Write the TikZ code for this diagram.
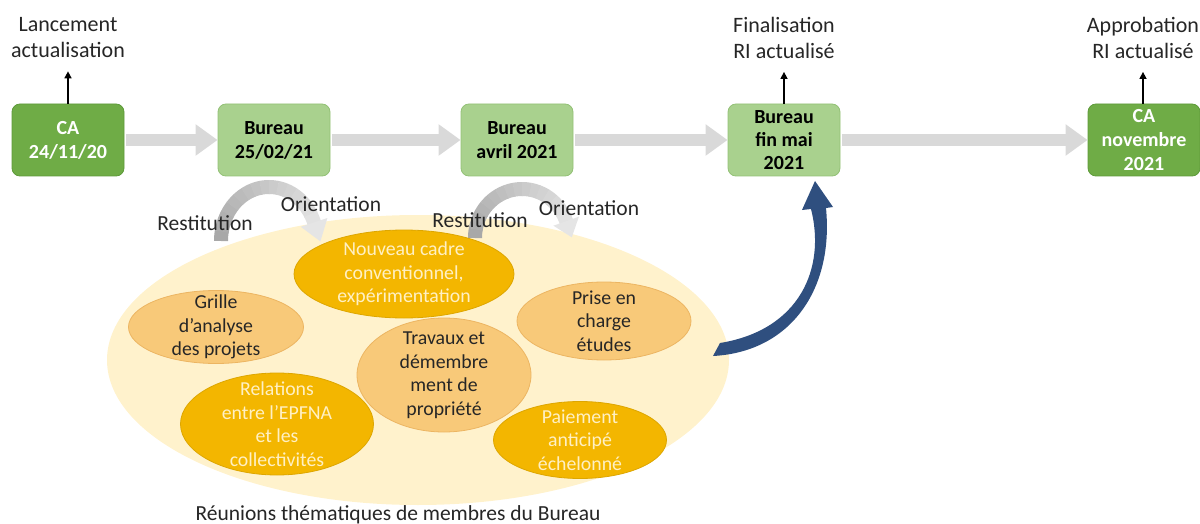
\documentclass[tikz,border=0pt]{standalone}
\usepackage{fontspec}
\setmainfont{Carlito}
\usetikzlibrary{arrows.meta,shapes.geometric}

\definecolor{cagreen}{HTML}{6FAC46}
\definecolor{cagreenline}{HTML}{5E9A3A}
\definecolor{bugreen}{HTML}{A9D18E}
\definecolor{bugreenline}{HTML}{93C176}
\definecolor{flowgray}{HTML}{D9D9D9}
\definecolor{paleyellow}{HTML}{FFF2CC}
\definecolor{gold}{HTML}{F3B600}
\definecolor{goldline}{HTML}{DDA600}
\definecolor{peach}{HTML}{F8C979}
\definecolor{peachline}{HTML}{ECB562}
\definecolor{creamtext}{HTML}{FFF0C4}
\definecolor{navyarrow}{HTML}{2F4F7F}
\definecolor{inktext}{HTML}{262626}

\tikzset{
  boxbase/.style={rounded corners=8pt, minimum width=112pt, minimum height=72pt,
    align=center, inner sep=0pt, line width=0.8pt,
    font=\fontsize{20}{24}\selectfont\bfseries},
  cabox/.style={boxbase, fill=cagreen, draw=cagreenline, text=white},
  bubox/.style={boxbase, fill=bugreen, draw=bugreenline, text=black},
  milestone/.style={align=center, inner sep=0pt, text=inktext,
    font=\fontsize{22}{26}\selectfont},
  steplabel/.style={inner sep=0pt, text=inktext, font=\fontsize{21.5}{26}\selectfont},
  flow/.style={draw=flowgray, line width=12pt, shorten <=2pt,
    -{Triangle[length=22pt,width=30pt]}},
  upline/.style={draw=black, line width=1.5pt, -{Triangle[length=7pt,width=7pt]}},
  goldell/.style={ellipse, fill=gold, draw=goldline, line width=0.8pt, inner sep=0pt},
  peachell/.style={ellipse, fill=peach, draw=peachline, line width=0.8pt, inner sep=0pt},
  goldtxt/.style={align=center, inner sep=0pt, text=creamtext,
    font=\fontsize{19.8}{23.5}\selectfont},
  peachtxt/.style={align=center, inner sep=0pt, text=inktext,
    font=\fontsize{19.8}{23.5}\selectfont},
}

\begin{document}
\begin{tikzpicture}[x=1pt,y=-1pt]
\useasboundingbox (0,0) rectangle (1200,524);

% thematic meetings pool
\node[ellipse, fill=paleyellow, minimum width=622pt, minimum height=290pt, inner sep=0pt] (pool) at (418,360) {};

% restitution / orientation loops (shaded bands)
\foreach \i in {0,...,15}{
  \pgfmathsetmacro\a{180-\i*10}
  \pgfmathsetmacro\b{\a-10.6}
  \pgfmathsetmacro\c{34-\i*1.5}
  \draw[line width=14pt, black!\c] plot[domain=\a:\b, samples=5]
    ({269+48*cos(\x)},{241-54*sin(\x)});
  \draw[line width=14pt, black!\c] plot[domain=\a:\b, samples=5]
    ({522+47*cos(\x)},{238-49*sin(\x)});
}
\fill[black!10] (327.4,218.0) -- (320.4,241.4) -- (300.8,226.8) -- cycle;
\fill[black!10] (578.9,216.7) -- (571.8,237.3) -- (553.4,225.7) -- cycle;

% milestones
\node[cabox] (ca1) at (68,140) {CA\\24/11/20};
\node[bubox] (b1) at (274,140) {Bureau\\25/02/21};
\node[bubox] (b2) at (517,140) {Bureau\\avril 2021};
\node[bubox, font=\fontsize{20}{23}\selectfont\bfseries] (b3) at (784,140) {Bureau\\fin mai\\2021};
\node[cabox] (ca2) at (1144,140) {CA\\novembre\\2021};

% timeline arrows
\draw[flow] (ca1.east) -- (b1.west);
\draw[flow] (b1.east) -- (b2.west);
\draw[flow] (b2.east) -- (b3.west);
\draw[flow] (b3.east) -- (ca2.west);

% milestone captions
\node[milestone] (lab1) at (68,38) {Lancement\\actualisation};
\node[milestone] (lab3) at (784,38) {Finalisation\\RI actualisé};
\node[milestone] (lab4) at (1143,38) {Approbation\\RI actualisé};
\draw[upline, shorten >=13pt] (ca1.north) -- (lab1.south);
\draw[upline, shorten >=13pt] (b3.north) -- (lab3.south);
\draw[upline, shorten >=13pt] (ca2.north -| lab4.south) -- (lab4.south);

% loop labels
\node[steplabel] (rest1) at (205,223) {Restitution};
\node[steplabel] (orient1) at (331,204) {Orientation};
\node[steplabel] (rest2) at (480,220) {Restitution};
\node[steplabel] (orient2) at (589,208) {Orientation};

% themes
\node[goldell, minimum width=220pt, minimum height=88pt] (cadre) at (404,274) {};
\node[goldtxt] (cadre-t) at (cadre) {Nouveau cadre\\conventionnel,\\expérimentation};
\node[peachell, minimum width=175pt, minimum height=73pt] (grille) at (216,327) {};
\node[peachtxt] (grille-t) at (grille) {Grille\\d’analyse\\des projets};
\node[peachell, minimum width=174pt, minimum height=78pt] (prise) at (604,321) {};
\node[peachtxt] (prise-t) at (prise) {Prise en\\charge\\études};
\node[peachell, minimum width=174pt, minimum height=114pt] (travaux) at (444,375) {};
\node[peachtxt] (travaux-t) at (travaux) {Travaux et\\démembre\\ment de\\propriété};
\node[goldell, minimum width=193pt, minimum height=102pt] (relations) at (277,424) {};
\node[goldtxt] (relations-t) at (relations) {Relations\\entre l’EPFNA\\et les\\collectivités};
\node[goldell, minimum width=173pt, minimum height=77pt] (paiement) at (580,440) {};
\node[goldtxt] (paiement-t) at (paiement) {Paiement\\anticipé\\échelonné};

\node[steplabel, anchor=base] (caption) at (398,520) {Réunions thématiques de membres du Bureau};

% feedback arrow from the meetings to the final Bureau
\fill[navyarrow] (713,356) .. controls (790,352) and (834,290) .. (826,208)
  -- (833,207) -- (815,181) -- (802,210) -- (811,209)
  .. controls (826,268) and (800,330) .. (720,343) -- cycle;
\end{tikzpicture}
\end{document}
